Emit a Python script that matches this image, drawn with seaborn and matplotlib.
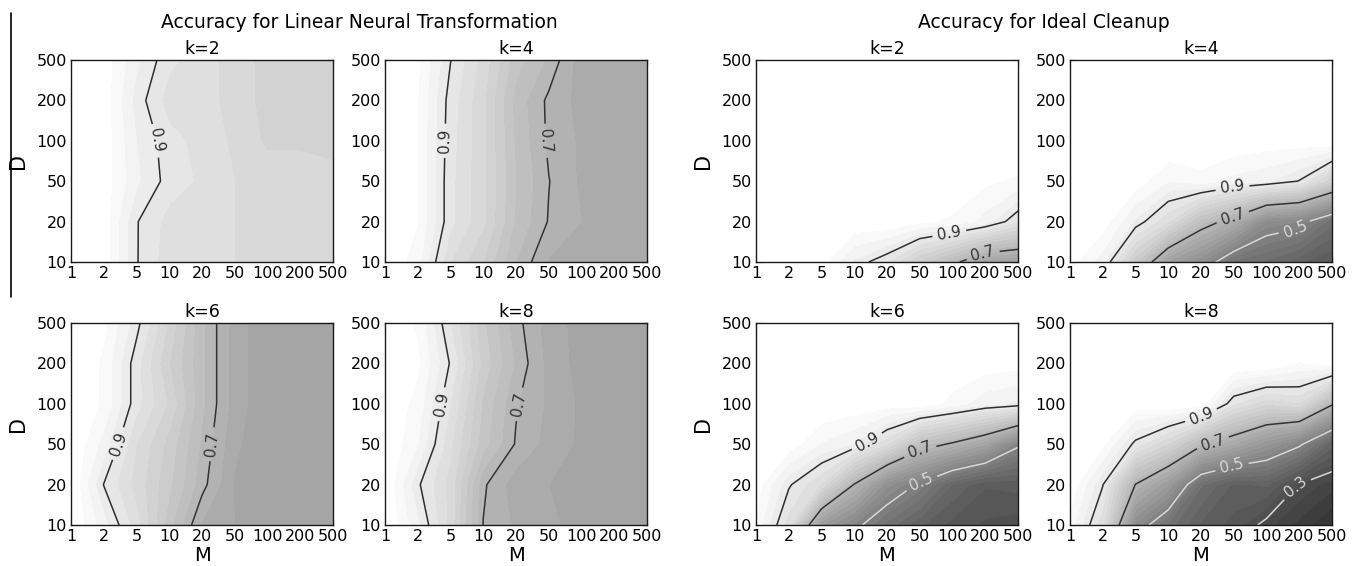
import numpy as np
import matplotlib
matplotlib.use("Agg")
import matplotlib.pyplot as plt
from matplotlib.lines import Line2D
import seaborn as sns

# ---- data -----------------------------------------------------------------
M_VALUES = [1, 2, 5, 10, 20, 50, 100, 200, 500]
D_VALUES = [10, 20, 50, 100, 200, 500]
K_VALUES = [2, 4, 6, 8]

# accuracy grids: one row per D (10 ... 500), one column per M (1 ... 500)
LINEAR_K2 = [
    [1.00, 0.99, 0.902, 0.860, 0.855, 0.850, 0.845, 0.845, 0.840],
    [1.00, 0.99, 0.902, 0.865, 0.860, 0.850, 0.845, 0.840, 0.840],
    [1.00, 0.99, 0.930, 0.889, 0.870, 0.850, 0.840, 0.840, 0.830],
    [1.00, 0.99, 0.925, 0.885, 0.865, 0.845, 0.820, 0.820, 0.820],
    [1.00, 0.99, 0.915, 0.862, 0.860, 0.840, 0.815, 0.810, 0.815],
    [1.00, 0.99, 0.930, 0.882, 0.860, 0.840, 0.815, 0.810, 0.810],
]
LINEAR_K4 = [
    [1.00, 0.960, 0.850, 0.800, 0.725, 0.672, 0.670, 0.665, 0.665],
    [1.00, 0.975, 0.882, 0.830, 0.745, 0.698, 0.675, 0.670, 0.665],
    [1.00, 0.975, 0.882, 0.830, 0.750, 0.701, 0.670, 0.670, 0.665],
    [1.00, 0.975, 0.885, 0.830, 0.745, 0.695, 0.670, 0.660, 0.655],
    [1.00, 0.975, 0.888, 0.830, 0.740, 0.694, 0.665, 0.655, 0.655],
    [1.00, 0.980, 0.901, 0.840, 0.760, 0.720, 0.660, 0.655, 0.655],
]
LINEAR_K6 = [
    [1.00, 0.935, 0.860, 0.760, 0.672, 0.650, 0.645, 0.645, 0.645],
    [1.00, 0.899, 0.840, 0.780, 0.710, 0.647, 0.635, 0.640, 0.640],
    [1.00, 0.940, 0.850, 0.790, 0.720, 0.655, 0.630, 0.630, 0.630],
    [1.00, 0.970, 0.885, 0.820, 0.730, 0.663, 0.630, 0.628, 0.628],
    [1.00, 0.970, 0.885, 0.800, 0.730, 0.663, 0.630, 0.628, 0.628],
    [1.00, 0.980, 0.910, 0.820, 0.730, 0.663, 0.630, 0.628, 0.628],
]
LINEAR_K8 = [
    [1.00, 0.930, 0.840, 0.699, 0.670, 0.655, 0.640, 0.630, 0.628],
    [1.00, 0.905, 0.840, 0.705, 0.660, 0.650, 0.640, 0.630, 0.628],
    [1.00, 0.950, 0.855, 0.760, 0.697, 0.665, 0.645, 0.635, 0.630],
    [1.00, 0.965, 0.875, 0.770, 0.703, 0.670, 0.645, 0.635, 0.630],
    [1.00, 0.980, 0.897, 0.790, 0.720, 0.666, 0.640, 0.630, 0.628],
    [1.00, 0.970, 0.875, 0.780, 0.710, 0.662, 0.640, 0.630, 0.628],
]
IDEAL_K2 = [
    [1.00, 1.00, 0.985, 0.920, 0.875, 0.790, 0.720, 0.630, 0.620],
    [1.00, 1.00, 1.000, 0.995, 1.000, 0.980, 0.970, 0.940, 0.875],
    [1.00, 1.00, 1.000, 1.000, 1.000, 1.000, 0.995, 0.980, 0.970],
    [1.00, 1.00, 1.000, 1.000, 1.000, 1.000, 1.000, 1.000, 1.000],
    [1.00, 1.00, 1.000, 1.000, 1.000, 1.000, 1.000, 1.000, 1.000],
    [1.00, 1.00, 1.000, 1.000, 1.000, 1.000, 1.000, 1.000, 1.000],
]
IDEAL_K4 = [
    [0.985, 0.935, 0.780, 0.620, 0.550, 0.440, 0.420, 0.380, 0.350],
    [1.000, 0.990, 0.920, 0.850, 0.738, 0.670, 0.543, 0.525, 0.433],
    [1.000, 1.000, 0.990, 0.950, 0.965, 0.940, 0.930, 0.898, 0.803],
    [1.000, 1.000, 1.000, 1.000, 1.000, 0.995, 0.990, 0.990, 1.000],
    [1.000, 1.000, 1.000, 1.000, 1.000, 1.000, 1.000, 1.000, 1.000],
    [1.000, 1.000, 1.000, 1.000, 1.000, 1.000, 1.000, 1.000, 1.000],
]
IDEAL_K6 = [
    [0.970, 0.860, 0.602, 0.520, 0.440, 0.380, 0.340, 0.320, 0.310],
    [0.990, 0.905, 0.847, 0.697, 0.560, 0.490, 0.398, 0.353, 0.360],
    [1.000, 0.990, 0.947, 0.923, 0.850, 0.737, 0.690, 0.630, 0.512],
    [1.000, 1.000, 1.000, 0.995, 0.990, 0.992, 0.966, 0.933, 0.920],
    [1.000, 1.000, 1.000, 1.000, 1.000, 1.000, 0.995, 0.990, 0.985],
    [1.000, 1.000, 1.000, 1.000, 1.000, 1.000, 1.000, 1.000, 1.000],
]
IDEAL_K8 = [
    [0.965, 0.857, 0.543, 0.440, 0.370, 0.340, 0.285, 0.240, 0.200],
    [0.995, 0.902, 0.698, 0.600, 0.429, 0.370, 0.380, 0.298, 0.259],
    [1.000, 0.980, 0.890, 0.822, 0.714, 0.650, 0.580, 0.513, 0.387],
    [1.000, 1.000, 0.990, 1.000, 0.988, 0.877, 0.830, 0.847, 0.710],
    [1.000, 1.000, 1.000, 1.000, 1.000, 1.000, 1.000, 0.973, 0.985],
    [1.000, 1.000, 1.000, 1.000, 1.000, 1.000, 1.000, 1.000, 1.000],
]

GROUP_TITLES = ["Accuracy for Linear Neural Transformation", "Accuracy for Ideal Cleanup"]
LINE_LEVELS = [0.1, 0.3, 0.5, 0.7, 0.9]

# ---- style ----------------------------------------------------------------
sns.set_theme(style="ticks")
plt.rcParams.update({
    "font.family": ["DejaVu Sans"],
    "text.color": "black",
    "axes.labelcolor": "black",
    "axes.edgecolor": "#1a1a1a",
    "axes.linewidth": 1.0,
    "xtick.direction": "in",
    "ytick.direction": "in",
    "xtick.top": True,
    "ytick.right": True,
    "xtick.major.size": 4,
    "ytick.major.size": 4,
    "xtick.major.width": 0.8,
    "ytick.major.width": 0.8,
    "xtick.color": "#222222",
    "ytick.color": "#222222",
    "xtick.labelcolor": "black",
    "ytick.labelcolor": "black",
})

fill_cmap = sns.color_palette("gray", as_cmap=True)
fill_levels = np.linspace(0.0, 1.0, 41)
# top band (0.975, 1] maps to pure white
fill_vmax = 0.9875
line_colors = ["#e4e4e4", "#d8d8d8", "#d8d8d8", "#333333", "#2e2e2e"]

W, H = 1359, 566
fig = plt.figure(figsize=(W / 100, H / 100), dpi=100)

col_left = [71, 385, 756, 1070]
row_top = [60, 323]
aw, ah = 262, 202

grids = {
    (0, 2): LINEAR_K2, (0, 4): LINEAR_K4, (0, 6): LINEAR_K6, (0, 8): LINEAR_K8,
    (1, 2): IDEAL_K2, (1, 4): IDEAL_K4, (1, 6): IDEAL_K6, (1, 8): IDEAL_K8,
}
# where each contour label sits, in grid-index coordinates
label_spots = {
    (0, 2): [(2.6, 3.0)],
    (0, 4): [(1.83, 3.0), (4.9, 3.0)],
    (0, 6): [(1.5, 2.0), (4.3, 2.0)],
    (0, 8): [(1.65, 3.0), (4.0, 3.0)],
    (1, 2): [(5.9, 0.72), (6.95, 0.15)],
    (1, 4): [(4.96, 1.84), (4.96, 1.14), (6.88, 0.81)],
    (1, 6): [(3.4, 2.05), (5.0, 1.85), (5.0, 1.15)],
    (1, 8): [(3.97, 2.76), (4.37, 2.02), (4.96, 1.4), (6.88, 0.95)],
}

xi = np.arange(len(M_VALUES))
yi = np.arange(len(D_VALUES))

for g in range(2):
    for idx, k in enumerate(K_VALUES):
        r, c = divmod(idx, 2)
        left = col_left[2 * g + c]
        top = row_top[r]
        ax = fig.add_axes([left / W, 1 - (top + ah) / H, aw / W, ah / H])
        Z = np.array(grids[(g, k)])
        ax.contourf(xi, yi, Z, levels=fill_levels, cmap=fill_cmap, vmin=0, vmax=fill_vmax)
        cs = ax.contour(xi, yi, Z, levels=LINE_LEVELS, colors=line_colors, linewidths=1.1)
        ax.clabel(cs, fmt="%1.1f", fontsize=11, inline=True, manual=label_spots[(g, k)])
        ax.set_xlim(0, len(M_VALUES) - 1)
        ax.set_ylim(0, len(D_VALUES) - 1)
        ax.set_xticks(xi, [str(m) for m in M_VALUES])
        ax.set_yticks(yi, [str(d) for d in D_VALUES])
        ax.tick_params(labelsize=11.5, pad=3)
        ax.set_title(f"k={k}", fontsize=12.5, pad=4)
        if c == 0:
            ax.set_ylabel("D", fontsize=15, labelpad=6)
        if r == 1:
            ax.set_xlabel("M", fontsize=14, labelpad=1)
        for s in ax.spines.values():
            s.set_visible(True)

    center = (col_left[2 * g] + col_left[2 * g + 1] + aw) / 2
    fig.text(center / W, 1 - 22 / H, GROUP_TITLES[g], ha="center", va="center", fontsize=13.5)

# thin rule along the left margin
fig.add_artist(Line2D([11 / W, 11 / W], [1 - 13 / H, 1 - 297 / H],
                      transform=fig.transFigure, color="black", lw=1.2))

fig.savefig("out.png", dpi=100)
